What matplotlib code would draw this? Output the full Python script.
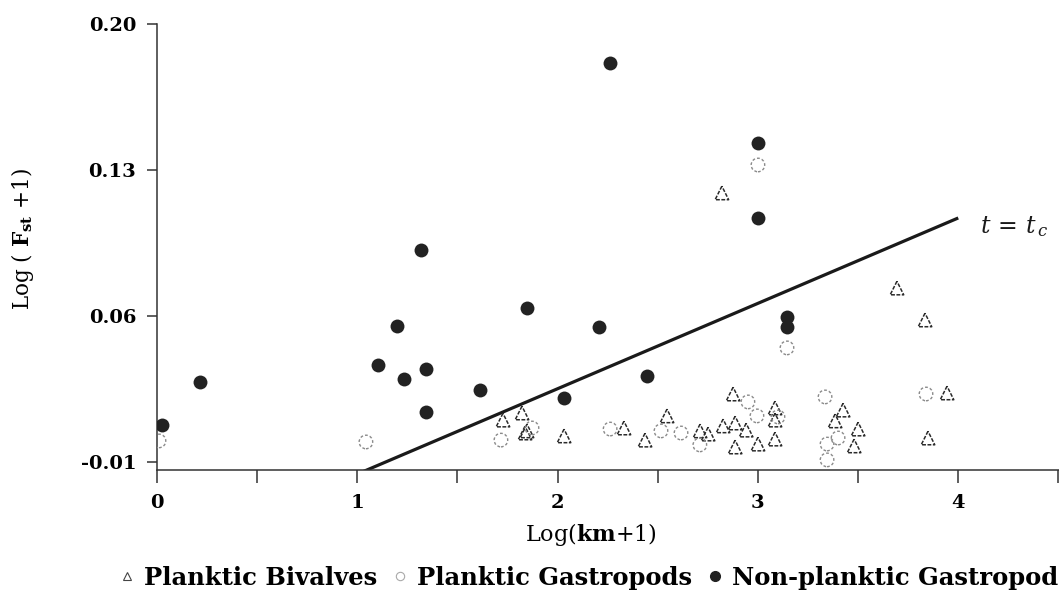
#!/usr/bin/env python
"""Log(Fst+1) against Log(km+1) for planktic and non-planktic molluscs."""

import matplotlib

matplotlib.use("Agg")
import matplotlib.pyplot as plt
from matplotlib.lines import Line2D
from matplotlib.ticker import FixedLocator, MultipleLocator, NullFormatter

# non-planktic gastropods (filled circles)
nonplank_x = [0.025, 0.215, 1.103, 1.198, 1.233, 1.343, 1.343, 1.318, 1.613,
              1.847, 2.032, 2.207, 2.262, 2.446, 3.000, 3.000, 3.145, 3.145]
nonplank_y = [0.0077, 0.0284, 0.0365, 0.0552, 0.0298, 0.0346, 0.0140, 0.0916, 0.0245,
              0.0638, 0.0207, 0.0547, 0.1813, 0.0312, 0.1429, 0.1070, 0.0595, 0.0547]

# planktic gastropods (open circles)
gastro_x = [0.010, 1.043, 1.717, 1.872, 2.262, 2.516, 2.616, 2.710, 3.000, 2.995,
            2.950, 3.100, 3.145, 3.335, 3.400, 3.345, 3.345, 3.839]
gastro_y = [0.0001, -0.0004, 0.0005, 0.0063, 0.0058, 0.0049, 0.0039, -0.0018, 0.1324, 0.0121,
            0.0188, 0.0116, 0.0447, 0.0212, 0.0015, -0.0014, -0.0090, 0.0226]

# planktic bivalves (open triangles)
bival_x = [2.820, 1.727, 1.822, 1.837, 1.847, 2.032, 2.331, 2.436, 2.546, 2.711,
           2.751, 2.826, 2.886, 2.876, 2.941, 2.886, 3.000, 3.085, 3.085, 3.085,
           3.425, 3.385, 3.500, 3.480, 3.694, 3.834, 3.944, 3.849]
bival_y = [0.1190, 0.0101, 0.0135, 0.0039, 0.0049, 0.0025, 0.0063, 0.0005, 0.0121, 0.0049,
           0.0034, 0.0073, 0.0087, 0.0226, 0.0053, -0.0028, -0.0014, 0.0159, 0.0101, 0.0010,
           0.0149, 0.0097, 0.0058, -0.0023, 0.0734, 0.0581, 0.0231, 0.0015]

# critical line t = tc
tc_x = [1.00, 4.00]
tc_y = [-0.0158, 0.1070]

y_ticks = [-0.01, 0.06, 0.13, 0.20]
y_labels = ["-0.01", "0.06", "0.13", "0.20"]
x_labels = ["0", "1", "2", "3", "4"]

SERIF = "DejaVu Serif"
plt.rcParams["font.family"] = SERIF
plt.rcParams["mathtext.fontset"] = "dejavuserif"

fig = plt.figure(figsize=(10.59, 6.01), dpi=100)
ax = fig.add_axes([157 / 1059, 131 / 601, 902 / 1059, 446 / 601])

ax.plot(tc_x, tc_y, color="#1a1a1a", linewidth=2.3, solid_capstyle="butt", zorder=2)

ax.scatter(bival_x, bival_y, marker="^", s=95, facecolors="none", edgecolors="#2b2b2b",
           linewidths=1.1, linestyle=(0, (2.5, 1.0)), zorder=3)
ax.scatter(gastro_x, gastro_y, marker="o", s=95, facecolors="none", edgecolors="#8a8a8a",
           linewidths=1.0, linestyle=(0, (2.0, 1.5)), zorder=3)
ax.scatter(nonplank_x, nonplank_y, marker="o", s=100, color="#222222", linewidths=0, zorder=4)

ax.text(4.11, 0.1030, r"$t\,=\,t_{\,c}$", fontsize=17, ha="left", va="center", color="#1a1a1a")

ax.set_xlim(0, 4.503)
ax.set_ylim(-0.01384, 0.20)
for side in ("top", "right"):
    ax.spines[side].set_visible(False)
for side in ("left", "bottom"):
    ax.spines[side].set_linewidth(1.1)
    ax.spines[side].set_color("#333333")

ax.xaxis.set_major_locator(FixedLocator(range(len(x_labels))))
ax.set_xticklabels(x_labels)
ax.xaxis.set_minor_locator(MultipleLocator(0.5))
ax.xaxis.set_minor_formatter(NullFormatter())
ax.set_yticks(y_ticks)
ax.set_yticklabels(y_labels)
ax.tick_params(axis="x", which="both", direction="out", length=9, width=1.1, color="#333333",
               pad=8, labelsize=14)
ax.tick_params(axis="y", direction="out", length=7, width=1.1, color="#333333",
               pad=8, labelsize=14)
for lab in ax.get_xticklabels() + ax.get_yticklabels():
    lab.set_fontweight("bold")

ax.set_xlabel(r"Log($\mathbf{km}$+1)", fontsize=16)
ax.xaxis.set_label_coords((591 - 157) / 902, -51 / 446)
fig.text(22 / 1059, 1 - 239 / 601, r"Log ( $\mathbf{F}_{\mathbf{st}}$ +1)", fontsize=15.5,
         rotation=90, ha="center", va="center")

handles = [
    Line2D([], [], linestyle="none", marker="^", markersize=6, markerfacecolor="none",
           markeredgecolor="#444444", markeredgewidth=0.8),
    Line2D([], [], linestyle="none", marker="o", markersize=6, markerfacecolor="none",
           markeredgecolor="#aaaaaa", markeredgewidth=0.8),
    Line2D([], [], linestyle="none", marker="o", markersize=7, color="#222222"),
]
labels = ["Planktic Bivalves", "Planktic Gastropods", "Non-planktic Gastropod"]
fig.legend(handles, labels, loc="center left", bbox_to_anchor=(118 / 1059, 1 - 578 / 601), ncol=3,
           frameon=False, handlelength=0.7, handletextpad=0.35, columnspacing=0.6,
           borderpad=0, borderaxespad=0, prop={"family": SERIF, "weight": "bold", "size": 17.5})

fig.savefig("out.png", dpi=100)
